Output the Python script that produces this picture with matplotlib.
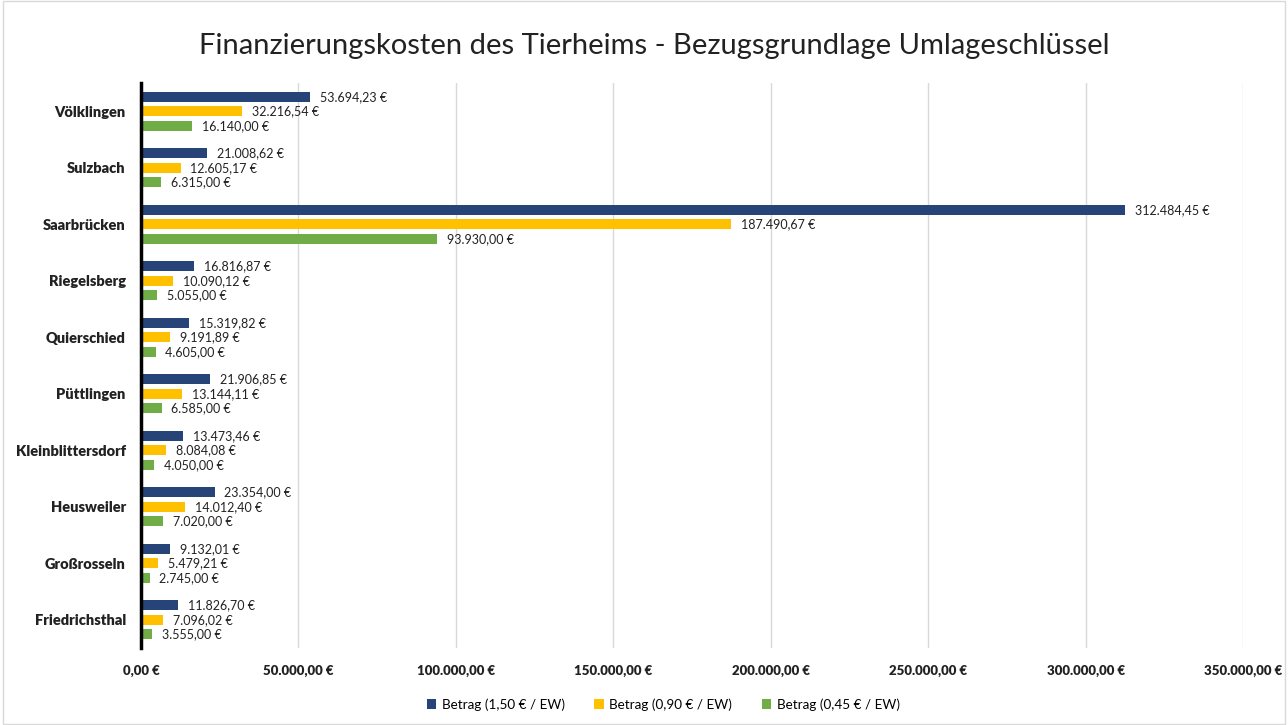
import matplotlib.pyplot as plt
import numpy as np

orte = ['Völklingen', 'Sulzbach', 'Saarbrücken', 'Riegelsberg', 'Quierschied',
        'Püttlingen', 'Kleinblittersdorf', 'Heusweiler', 'Großrosseln', 'Friedrichsthal']
betrag_150 = [53694.23, 21008.62, 312484.45, 16816.87, 15319.82,
              21906.85, 13473.46, 23354.00, 9132.01, 11826.70]
betrag_090 = [32216.54, 12605.17, 187490.67, 10090.12, 9191.89,
              13144.11, 8084.08, 14012.40, 5479.21, 7096.02]
betrag_045 = [16140.00, 6315.00, 93930.00, 5055.00, 4605.00,
              6585.00, 4050.00, 7020.00, 2745.00, 3555.00]
serien = ['Betrag (1,50 € / EW)', 'Betrag (0,90 € / EW)', 'Betrag (0,45 € / EW)']
farben = ['#264478', '#FFC000', '#70AD47']

plt.rcParams['font.family'] = ['Lato', 'DejaVu Sans']


def euro(v):
    s = f'{v:,.2f}'.replace(',', 'X').replace('.', ',').replace('X', '.')
    return s + ' €'


fig = plt.figure(figsize=(12.88, 7.25), dpi=100)
ax = fig.add_axes([0.1095, 0.1062, 0.8556, 0.7793])

y = np.arange(len(orte))[::-1]
h = 0.18
off = 0.257
for i, (werte, name, farbe) in enumerate(zip([betrag_150, betrag_090, betrag_045], serien, farben)):
    pos = y + off * (1 - i)
    ax.barh(pos, werte, height=h, color=farbe, label=name, zorder=3)
    for p, w in zip(pos, werte):
        ax.annotate(euro(w), (w, p), xytext=(7, 0), textcoords='offset points',
                    va='center', ha='left', fontsize=9, color='#222222')

ax.set_xlim(0, 350000)
ax.set_ylim(-0.5, 9.5)
ax.set_xticks(np.arange(0, 350001, 50000))
ax.set_xticklabels([euro(v) for v in np.arange(0, 350001, 50000)],
                   fontsize=9.5, fontweight='heavy', color='#222222')
ax.set_yticks(y)
ax.set_yticklabels(orte, fontsize=10.5, fontweight='heavy', color='#222222')
ax.tick_params(axis='both', length=0, pad=12)
ax.tick_params(axis='y', pad=11)
ax.grid(axis='x', color='#D9D9D9', linewidth=1, zorder=0)
for s in ['top', 'right', 'bottom']:
    ax.spines[s].set_visible(False)
ax.spines['left'].set_linewidth(2.5)
ax.spines['left'].set_color('black')
ax.spines['left'].set_zorder(4)

fig.suptitle('Finanzierungskosten des Tierheims - Bezugsgrundlage Umlageschlüssel',
             fontsize=21, y=0.955, x=0.508, color='#222222')
fig.legend(loc='lower center', bbox_to_anchor=(0.515, 0.003), ncol=3, frameon=False,
           fontsize=9.7, handlelength=0.7, handleheight=0.7, columnspacing=2.2,
           handletextpad=0.4)

fig.patches.append(plt.Rectangle((0.002, 0.002), 0.996, 0.996, transform=fig.transFigure,
                                 fill=False, edgecolor='#D9D9D9', linewidth=1))
fig.savefig('out.png', dpi=100)
